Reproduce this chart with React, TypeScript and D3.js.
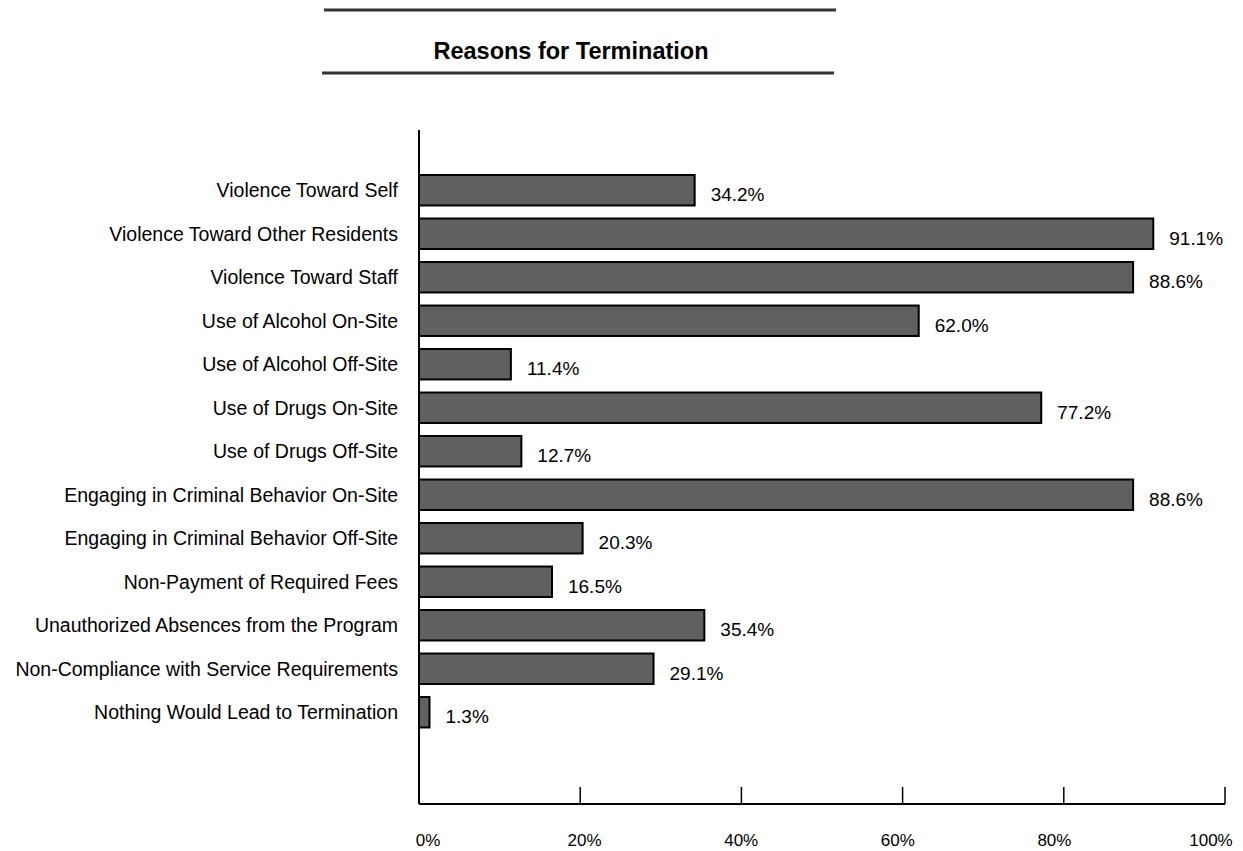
import { useEffect, useRef } from 'react';
import * as d3 from 'd3';

const categories = [
  'Violence Toward Self',
  'Violence Toward Other Residents',
  'Violence Toward Staff',
  'Use of Alcohol On-Site',
  'Use of Alcohol Off-Site',
  'Use of Drugs On-Site',
  'Use of Drugs Off-Site',
  'Engaging in Criminal Behavior On-Site',
  'Engaging in Criminal Behavior Off-Site',
  'Non-Payment of Required Fees',
  'Unauthorized Absences from the Program',
  'Non-Compliance with Service Requirements',
  'Nothing Would Lead to Termination',
];
const percents = [34.2, 91.1, 88.6, 62.0, 11.4, 77.2, 12.7, 88.6, 20.3, 16.5, 35.4, 29.1, 1.3];
const tickValues = [0, 20, 40, 60, 80, 100];
const title = 'Reasons for Termination';

const FONT = '"Liberation Sans", Arial, sans-serif';

export default function App() {
  const svgRef = useRef<SVGSVGElement>(null);

  useEffect(() => {
    const width = 1243;
    const height = 851;
    const svg = d3.select(svgRef.current);
    svg.selectAll('*').remove();
    svg.attr('width', width).attr('height', height).style('font-family', FONT);

    const data = categories.map((c, i) => ({ name: c, value: percents[i] }));

    // 軸の位置
    const x0 = 419;
    const x1 = 1225;
    const axisY = 804;
    const x = d3.scaleLinear().domain([0, 100]).range([x0, x1]);
    // 目盛りラベルは目盛りと少しずれて並んでいる
    const xLabel = d3.scaleLinear().domain([0, 100]).range([x0 + 9, x1 - 14]);
    const y = d3
      .scaleBand()
      .domain(categories)
      .range([168.5, 734])
      .paddingInner(0.3)
      .paddingOuter(0.15);

    // タイトルと上下の線
    svg.append('line')
      .attr('x1', 324).attr('x2', 836).attr('y1', 10).attr('y2', 10)
      .attr('stroke', '#333').attr('stroke-width', 3);
    svg.append('line')
      .attr('x1', 322).attr('x2', 834).attr('y1', 73).attr('y2', 73)
      .attr('stroke', '#333').attr('stroke-width', 3);
    svg.append('text')
      .attr('x', 571).attr('y', 59)
      .attr('text-anchor', 'middle')
      .style('font-size', '23.5px')
      .style('font-weight', 'bold')
      .attr('fill', '#000')
      .text(title);

    // 棒
    const g = svg.append('g');
    g.selectAll('rect')
      .data(data)
      .join('rect')
      .attr('x', x(0))
      .attr('y', (d) => y(d.name)!)
      .attr('width', (d) => x(d.value) - x(0))
      .attr('height', y.bandwidth())
      .attr('fill', '#606060')
      .attr('stroke', '#000')
      .attr('stroke-width', 2);

    // 値ラベル
    g.selectAll('text.val')
      .data(data)
      .join('text')
      .attr('class', 'val')
      .attr('x', (d) => x(d.value) + 16)
      .attr('y', (d) => y(d.name)! + y.bandwidth() / 2 + 11)
      .style('font-size', '19px')
      .attr('fill', '#000')
      .text((d) => d.value.toFixed(1) + '%');

    // カテゴリラベル
    g.selectAll('text.cat')
      .data(data)
      .join('text')
      .attr('class', 'cat')
      .attr('x', 398)
      .attr('y', (d) => y(d.name)! + y.bandwidth() / 2 + 7)
      .attr('text-anchor', 'end')
      .style('font-size', '19.5px')
      .attr('fill', '#000')
      .text((d) => d.name);

    // 縦軸
    svg.append('line')
      .attr('x1', x0).attr('x2', x0).attr('y1', 130).attr('y2', axisY)
      .attr('stroke', '#000').attr('stroke-width', 2);

    // 横軸と目盛り
    svg.append('line')
      .attr('x1', x0).attr('x2', x1).attr('y1', axisY).attr('y2', axisY)
      .attr('stroke', '#000').attr('stroke-width', 2);
    svg.append('g')
      .selectAll('line')
      .data(tickValues)
      .join('line')
      .attr('x1', (d) => x(d)).attr('x2', (d) => x(d))
      .attr('y1', axisY - 17).attr('y2', axisY)
      .attr('stroke', '#000').attr('stroke-width', 1.5);
    svg.append('g')
      .selectAll('text')
      .data(tickValues)
      .join('text')
      .attr('x', (d) => xLabel(d))
      .attr('y', 846)
      .attr('text-anchor', 'middle')
      .style('font-size', '17px')
      .attr('fill', '#000')
      .text((d) => d + '%');
  }, []);

  return <svg ref={svgRef} style={{ display: 'block', position: 'absolute', left: 0, top: 0 }}></svg>;
}
